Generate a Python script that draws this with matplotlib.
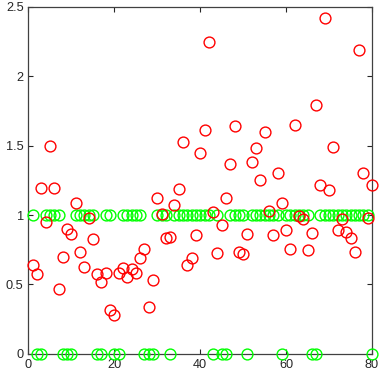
import matplotlib
matplotlib.use("Agg")
import matplotlib.pyplot as plt
import numpy as np

# index of each sample (1..80)
idx = np.arange(1, 81)

# predicted values (red circles)
pred = [0.64, 0.575, 1.197, 0.95, 1.5, 1.197, 0.47, 0.70, 0.90, 0.86,
        1.09, 0.73, 0.627, 0.976, 0.827, 0.572, 0.52, 0.58, 0.315, 0.277,
        0.58, 0.62, 0.555, 0.608, 0.58, 0.688, 0.753, 0.339, 0.531, 1.12,
        1.01, 0.834, 0.841, 1.072, 1.19, 1.53, 0.64, 0.688, 0.856, 1.45,
        1.61, 2.25, 1.02, 0.728, 0.93, 1.12, 1.37, 1.64, 0.733, 0.719,
        0.863, 1.38, 1.48, 1.25, 1.6, 1.027, 0.856, 1.30, 1.087, 0.892,
        0.753, 1.65, 0.993, 0.969, 0.748, 0.873, 1.79, 1.214, 2.42, 1.18,
        1.49, 0.894, 0.969, 0.88, 0.836, 0.731, 2.19, 1.303, 0.98, 1.22]

# true labels (green circles), 0 at these indices, 1 elsewhere
zero_idx = [2, 3, 8, 9, 10, 16, 17, 20, 21, 27, 28, 29, 33, 43, 45, 46,
            51, 59, 66, 67, 80]
label = [0 if i in zero_idx else 1 for i in idx]

xticks = [0, 20, 40, 60, 80]
yticks = [0, 0.5, 1, 1.5, 2, 2.5]

plt.rcParams['font.family'] = ['Liberation Sans', 'DejaVu Sans']

fig = plt.figure(figsize=(3.83, 3.78), dpi=100)
ax = fig.add_axes([0.0744, 0.0643, 0.8969, 0.9172])

ax.plot(idx, label, 'o', color=(0, 1, 0), mfc='none', ms=7.8, mew=1.0,
        clip_on=False, zorder=3)
ax.plot(idx, pred, 'o', color=(1, 0, 0), mfc='none', ms=7.8, mew=1.0,
        clip_on=False, zorder=4)

ax.set_xlim(0, 80)
ax.set_ylim(0, 2.5)
ax.set_xticks(xticks)
ax.set_yticks(yticks)
ax.set_yticklabels(['0', '0.5', '1', '1.5', '2', '2.5'])
ax.tick_params(direction='in', length=3.5, width=0.8, labelsize=9.2,
               top=True, right=True, pad=3.5, colors='#262626')
for s in ax.spines.values():
    s.set_linewidth(0.9)
    s.set_color('#404040')

fig.savefig('out.png', dpi=100)
